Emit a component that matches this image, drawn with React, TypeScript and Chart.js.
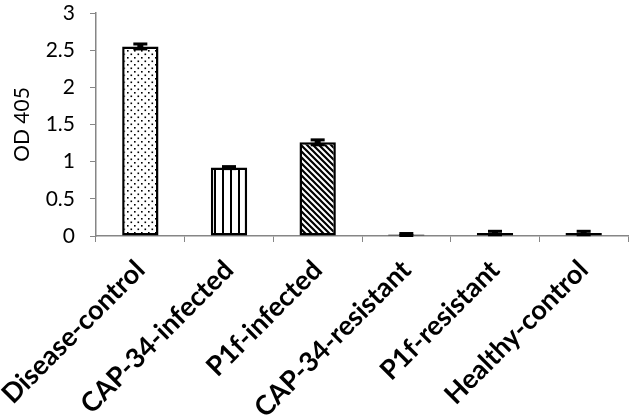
import React, { useEffect, useRef } from "react";
import { Chart, registerables } from "chart.js";
Chart.register(...registerables);

const categories = [
  "Disease-control",
  "CAP-34-infected",
  "P1f-infected",
  "CAP-34-resistant",
  "P1f-resistant",
  "Healthy-control",
];
const odValues = [2.55, 0.92, 1.26, 0.02, 0.04, 0.04];
const odErrors = [0.04, 0.02, 0.04, 0.02, 0.03, 0.03];
const yTicks = [0, 0.5, 1, 1.5, 2, 2.5, 3];
const yTitle = "OD 405";

function makePattern(kind: string): CanvasPattern | string {
  const c = document.createElement("canvas");
  const ctx = c.getContext("2d");
  if (!ctx) return "#fff";
  if (kind === "dots") {
    c.width = 7;
    c.height = 7;
    ctx.fillStyle = "#fff";
    ctx.fillRect(0, 0, 7, 7);
    ctx.fillStyle = "#000";
    ctx.fillRect(1, 1, 1.6, 1.6);
    ctx.fillRect(4.5, 4.5, 1.6, 1.6);
  } else if (kind === "vert") {
    c.width = 8;
    c.height = 8;
    ctx.fillStyle = "#fff";
    ctx.fillRect(0, 0, 8, 8);
    ctx.fillStyle = "#000";
    ctx.fillRect(6, 0, 2, 8);
  } else if (kind === "diag") {
    c.width = 6;
    c.height = 6;
    ctx.fillStyle = "#fff";
    ctx.fillRect(0, 0, 6, 6);
    ctx.strokeStyle = "#000";
    ctx.lineWidth = 2.2;
    ctx.beginPath();
    for (let k = -2; k <= 2; k++) {
      ctx.moveTo(k * 6 - 1, -1);
      ctx.lineTo(k * 6 + 7, 7);
    }
    ctx.stroke();
  } else {
    return "#fff";
  }
  return ctx.createPattern(c, "repeat") || "#fff";
}

const errorBarPlugin = {
  id: "errorBars",
  afterDatasetsDraw(chart: any) {
    const ctx = chart.ctx;
    const meta = chart.getDatasetMeta(0);
    const y = chart.scales.y;
    ctx.save();
    ctx.fillStyle = "#000";
    meta.data.forEach((bar: any, i: number) => {
      const v = odValues[i];
      const e = odErrors[i];
      const top = y.getPixelForValue(v + e);
      const bot = y.getPixelForValue(Math.max(0, v - e));
      const half = 7;
      const capH = 3;
      ctx.fillRect(bar.x - half, top - 1, half * 2, capH);
      ctx.fillRect(bar.x - half, bot - capH + 1, half * 2, capH);
      ctx.fillRect(bar.x - 3, top, 6, bot - top);
    });
    ctx.restore();
  },
};

export default function App() {
  const ref = useRef<HTMLCanvasElement | null>(null);
  useEffect(() => {
    if (!ref.current) return;
    const patterns = [
      makePattern("dots"),
      makePattern("vert"),
      makePattern("diag"),
      "#fff",
      "#fff",
      "#fff",
    ];
    const gray = "#868686";
    const chart = new Chart(ref.current, {
      type: "bar",
      data: {
        labels: categories,
        datasets: [
          {
            data: odValues,
            backgroundColor: patterns as any,
            borderColor: "#000",
            borderWidth: 2.5,
            borderSkipped: false,
            barPercentage: 0.41,
            categoryPercentage: 1,
          },
        ],
      },
      options: {
        animation: false,
        responsive: false,
        maintainAspectRatio: false,
        layout: { padding: { top: 0, right: 1, left: 0, bottom: 0 } },
        plugins: {
          legend: { display: false },
          tooltip: { enabled: false },
        },
        scales: {
          x: {
            offset: true,
            grid: {
              offset: true,
              drawOnChartArea: false,
              drawTicks: true,
              tickLength: 6,
              color: gray,
            },
            border: { color: gray, width: 1.5 },
            ticks: {
              maxRotation: 45,
              minRotation: 45,
              color: "#000",
              padding: 12,
              font: { family: "Lato", size: 27, weight: "bold" },
            },
            afterFit(scale: any) {
              scale.height = 182;
              scale.paddingLeft = 0;
              scale.paddingRight = 0;
            },
          },
          y: {
            min: 0,
            max: 3,
            afterBuildTicks(scale: any) {
              scale.ticks = yTicks.map((v) => ({ value: v }));
            },
            grid: {
              drawOnChartArea: false,
              drawTicks: true,
              tickLength: 6,
              color: gray,
            },
            border: { color: gray, width: 1.5 },
            ticks: {
              color: "#000",
              padding: 15,
              font: { family: "Lato", size: 21 },
              callback: (v: any) => String(v),
            },
            title: {
              display: true,
              text: yTitle,
              color: "#000",
              font: { family: "Lato", size: 21 },
              padding: { top: 10, bottom: 0 },
            },
            afterFit(scale: any) {
              scale.width = 96;
              scale.paddingTop = 13;
              scale.paddingBottom = 0;
            },
          },
        },
      },
      plugins: [errorBarPlugin],
    });
    return () => chart.destroy();
  }, []);
  return (
    <div style={{ position: "absolute", left: 0, top: 0, width: 629, height: 418 }}>
      <canvas ref={ref} width={629} height={418} style={{ width: 629, height: 418 }} />
    </div>
  );
}
